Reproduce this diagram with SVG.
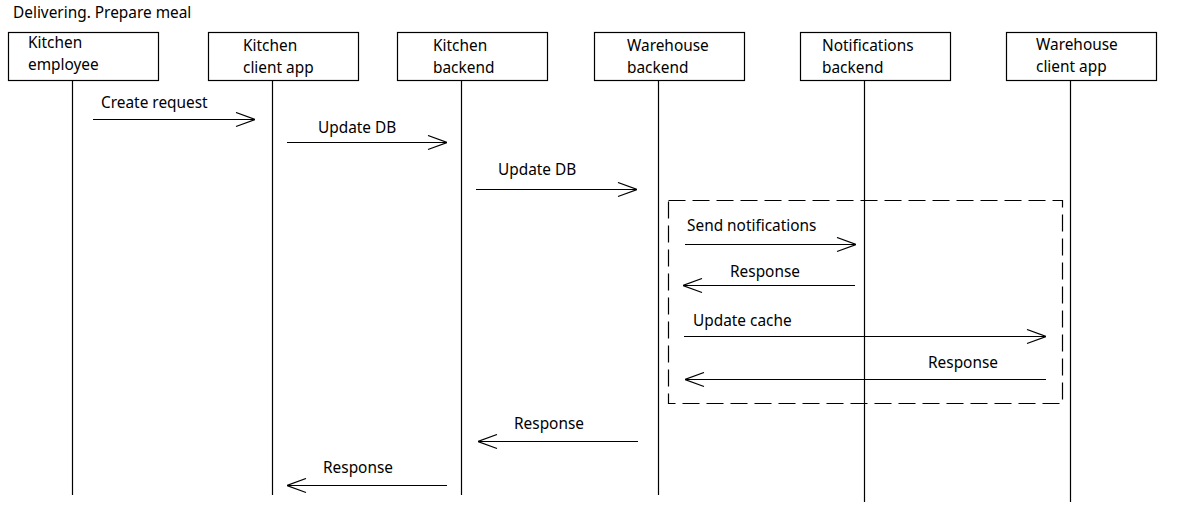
<svg xmlns="http://www.w3.org/2000/svg" width="1195" height="514" viewBox="0 0 1195 514">
<defs>
<style>
text{font-family:"Noto Sans","Open Sans","Liberation Sans",sans-serif;font-size:15.4px;fill:#000}
.box{fill:#fff;stroke:#000;stroke-width:1.2}
.life{stroke:#000;stroke-width:1.2;fill:none}
.msg{stroke:#000;stroke-width:1.2;fill:none}
.frame{fill:none;stroke:#000;stroke-width:1.2;stroke-dasharray:17 7}
</style>
<marker id="open" viewBox="0 0 20 16" refX="20" refY="8" markerWidth="20" markerHeight="16" markerUnits="userSpaceOnUse" orient="auto">
<path d="M1,1 L20,8 L1,15" fill="none" stroke="#000" stroke-width="1.2"/>
</marker>
</defs>
<rect width="1195" height="514" fill="#fff"/>
<text x="13" y="18">Delivering. Prepare meal</text>

<g id="kitchen-employee">
<rect class="box" x="8.5" y="32.5" width="150" height="48"/>
<line class="life" x1="72.5" y1="80.5" x2="72.5" y2="495"/>
<text x="28" y="48">Kitchen</text>
<text x="28" y="70">employee</text>
</g>
<g id="kitchen-client-app">
<rect class="box" x="208.5" y="32.5" width="150" height="48"/>
<line class="life" x1="272.5" y1="80.5" x2="272.5" y2="495"/>
<text x="243" y="51">Kitchen</text>
<text x="243" y="73">client app</text>
</g>
<g id="kitchen-backend">
<rect class="box" x="397.5" y="32.5" width="150" height="48"/>
<line class="life" x1="461.5" y1="80.5" x2="461.5" y2="495"/>
<text x="433" y="51">Kitchen</text>
<text x="433" y="73">backend</text>
</g>
<g id="warehouse-backend">
<rect class="box" x="594.5" y="32.5" width="150" height="48"/>
<line class="life" x1="658.5" y1="80.5" x2="658.5" y2="495"/>
<text x="627" y="51">Warehouse</text>
<text x="627" y="73">backend</text>
</g>
<g id="notifications-backend">
<rect class="box" x="800.5" y="32.5" width="150" height="48"/>
<line class="life" x1="864.5" y1="80.5" x2="864.5" y2="502"/>
<text x="822" y="51">Notifications</text>
<text x="822" y="73">backend</text>
</g>
<g id="warehouse-client-app">
<rect class="box" x="1006.5" y="32.5" width="150" height="48"/>
<line class="life" x1="1070.5" y1="80.5" x2="1070.5" y2="502"/>
<text x="1036" y="50">Warehouse</text>
<text x="1036" y="72">client app</text>
</g>

<g id="connectors">
<rect class="frame" x="668.5" y="200.5" width="394" height="203"/>
<line class="msg" x1="93" y1="119.5" x2="255" y2="119.5" marker-end="url(#open)"/>
<text x="101" y="108">Create request</text>
<line class="msg" x1="287" y1="142.5" x2="447" y2="142.5" marker-end="url(#open)"/>
<text x="318" y="133">Update DB</text>
<line class="msg" x1="476" y1="189.5" x2="637" y2="189.5" marker-end="url(#open)"/>
<text x="498" y="175">Update DB</text>
<line class="msg" x1="685" y1="244.5" x2="856" y2="244.5" marker-end="url(#open)"/>
<text x="687" y="231">Send notifications</text>
<line class="msg" x1="855" y1="285.5" x2="683" y2="285.5" marker-end="url(#open)"/>
<text x="730" y="277">Response</text>
<line class="msg" x1="684" y1="336.5" x2="1046" y2="336.5" marker-end="url(#open)"/>
<text x="693" y="326">Update cache</text>
<line class="msg" x1="1046" y1="379.5" x2="685" y2="379.5" marker-end="url(#open)"/>
<text x="928" y="368">Response</text>
<line class="msg" x1="638" y1="441.5" x2="478" y2="441.5" marker-end="url(#open)"/>
<text x="514" y="429">Response</text>
<line class="msg" x1="447" y1="485.5" x2="287" y2="485.5" marker-end="url(#open)"/>
<text x="323" y="473">Response</text>
</g>
</svg>
